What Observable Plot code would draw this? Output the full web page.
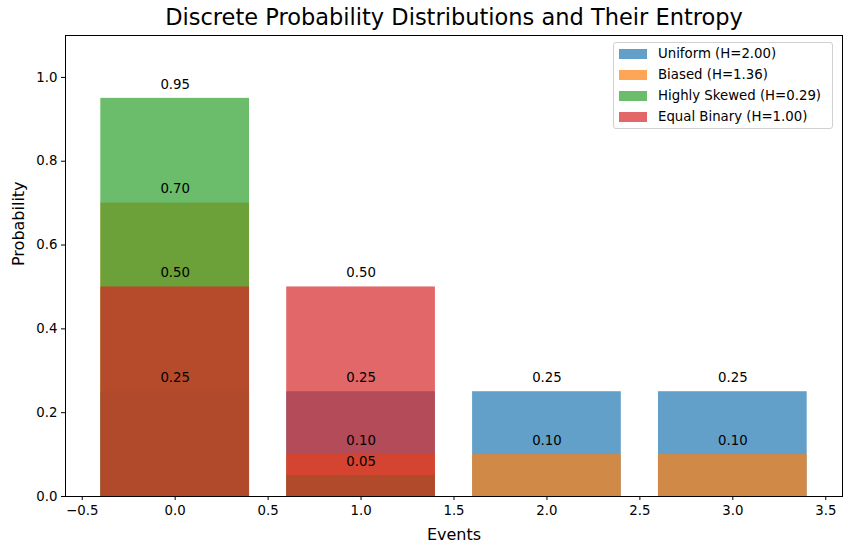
<!DOCTYPE html>
<html>
<head>
<meta charset="utf-8">
<script src="https://cdn.jsdelivr.net/npm/d3@7"></script>
<script src="https://cdn.jsdelivr.net/npm/@observablehq/plot@0.6"></script>
<style>
  html, body { margin: 0; padding: 0; background: white; }
  #wrap { position: relative; width: 850px; height: 553px; font-family: "DejaVu Sans", sans-serif; }
  #legend { position: absolute; left: 613px; top: 42px; width: 220px; height: 87px; border: 1px solid #d0d0d0; border-radius: 3px; background: rgba(255,255,255,0.8); box-sizing: border-box; padding-top: 0px; }
  .row { display: flex; align-items: center; height: 21px; font-size: 13.3px; color: #000; }
  .sw { width: 28px; height: 10px; margin-left: 5px; margin-right: 11px; }
</style>
</head>
<body>
<div id="wrap"></div>
<script>
const events = [0, 1, 2, 3];
const seriesNames = ["Uniform (H=2.00)", "Biased (H=1.36)", "Highly Skewed (H=0.29)", "Equal Binary (H=1.00)"];
const uniform = [0.25, 0.25, 0.25, 0.25];
const biased = [0.70, 0.10, 0.10, 0.10];
const skewed = [0.95, 0.05];
const binary = [0.50, 0.50];
const colors = ["#1f77b4", "#ff7f0e", "#2ca02c", "#d62728"];
const xTicks = [-0.5, 0, 0.5, 1, 1.5, 2, 2.5, 3, 3.5];
const yTicks = [0, 0.2, 0.4, 0.6, 0.8, 1.0];

const seriesValues = [uniform, biased, skewed, binary];
const series = seriesValues.map((vals, k) => ({
  name: seriesNames[k], color: colors[k],
  data: vals.map((v, i) => ({e: events[i], p: v}))
}));
const allData = series.flatMap(s => s.data);

const plot = Plot.plot({
  width: 850, height: 553,
  marginLeft: 65, marginRight: 8, marginTop: 35, marginBottom: 57,
  style: {fontFamily: "DejaVu Sans", fontSize: "13.3px", background: "white", color: "black"},
  x: {domain: [-0.59, 3.59]},
  y: {domain: [0, 1.1]},
  marks: [
    ...series.map(s => Plot.rectY(s.data, {x1: d => d.e - 0.4, x2: d => d.e + 0.4, y1: 0, y2: "p", fill: s.color, fillOpacity: 0.7})),
    Plot.text(allData, {x: "e", y: "p", text: d => d.p.toFixed(2), dy: -14, lineAnchor: "middle", fontSize: 13.3, fill: "black"}),
    Plot.frame({stroke: "black"}),
    Plot.axisX({ticks: xTicks, tickFormat: d3.format(".1f"), tickSize: 4, tickPadding: 5, label: null, fontSize: 13.3}),
    Plot.axisY({ticks: yTicks, tickFormat: d3.format(".1f"), tickSize: 4, tickPadding: 4, label: null, fontSize: 13.3}),
    Plot.text(["Events"], {frameAnchor: "bottom", lineAnchor: "middle", dy: 38, fontSize: 16}),
    Plot.text(["Probability"], {frameAnchor: "left", dx: -47, rotate: -90, fontSize: 16}),
    Plot.text(["Discrete Probability Distributions and Their Entropy"], {frameAnchor: "top", lineAnchor: "middle", dy: -18, fontSize: 22.5})
  ]
});
const wrap = document.getElementById("wrap");
wrap.appendChild(plot);

const legend = document.createElement("div");
legend.id = "legend";
series.forEach(s => {
  const row = document.createElement("div");
  row.className = "row";
  const sw = document.createElement("span");
  sw.className = "sw";
  sw.style.background = s.color;
  sw.style.opacity = 0.7;
  row.appendChild(sw);
  const t = document.createElement("span");
  t.textContent = s.name;
  row.appendChild(t);
  legend.appendChild(row);
});
wrap.appendChild(legend);
</script>
</body>
</html>
